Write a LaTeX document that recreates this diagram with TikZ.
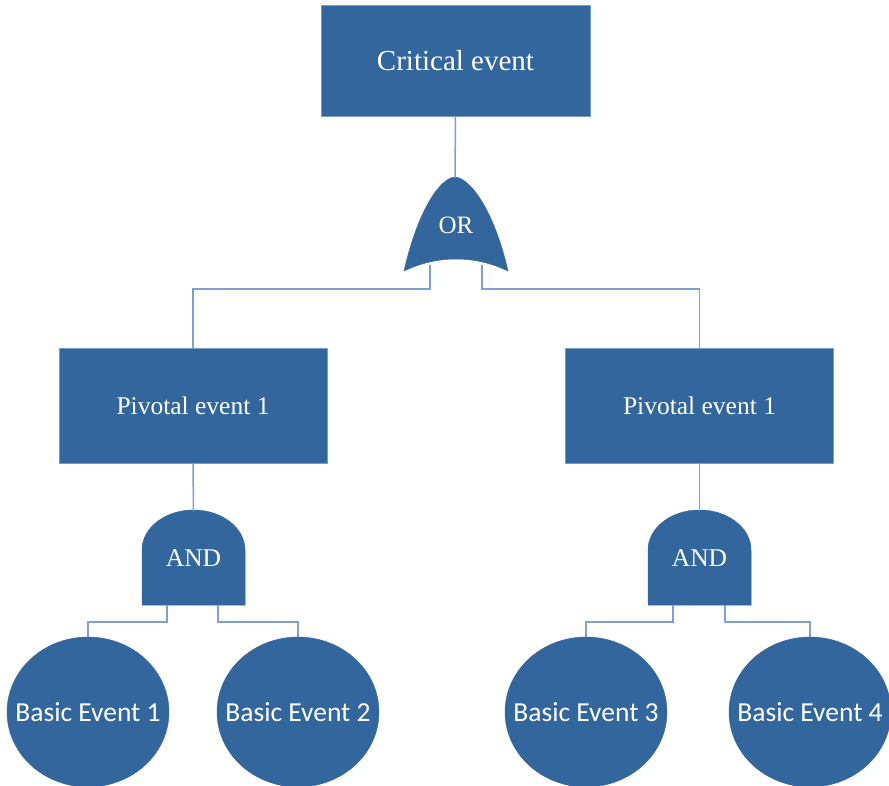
\documentclass[tikz,border=0pt]{standalone}
\usepackage{fontspec}
\setmainfont{Liberation Serif}
\newfontfamily\labelsans{Carlito}
\usetikzlibrary{shapes.geometric}
\definecolor{evfill}{RGB}{50,102,156}
\definecolor{evedge}{RGB}{120,155,200}
\definecolor{wire}{RGB}{125,160,205}
\begin{document}
\begin{tikzpicture}[x=1pt,y=-1pt,
  eventbox/.style={rectangle,fill=evfill,draw=evedge,line width=0.6pt,
    text=white,font=\fontsize{25.5}{30}\selectfont,inner sep=0pt},
  basicev/.style={ellipse,fill=evfill,draw=evfill,
    minimum width=162,minimum height=150,inner sep=0pt,outer sep=0pt},
  basictext/.style={text=white,inner sep=0pt,font=\labelsans\fontsize{27.5}{32}\selectfont},
  gatebody/.style={fill=evfill,draw=evfill,line width=0.5pt},
  gatelabel/.style={text=white,inner sep=0pt,font=\fontsize{25.5}{30}\selectfont},
  wirelink/.style={draw=wire,line width=1.5pt}]
\useasboundingbox (0,0) rectangle (889,786);

% events
\node[eventbox,minimum width=269,minimum height=111,font=\fontsize{29}{34}\selectfont]
  (crit) at (455.5,60.5) {Critical event};
\node[eventbox,minimum width=268,minimum height=115] (piv1) at (193,405.5) {Pivotal event 1};
\node[eventbox,minimum width=268,minimum height=115] (piv2) at (699.5,405.5) {Pivotal event 1};

\node[basicev] (be1) at (88,712) {};
\node[basictext] (be1t) at (be1.center) {Basic Event 1};
\node[basicev] (be2) at (298,712) {};
\node[basictext] (be2t) at (be2.center) {Basic Event 2};
\node[basicev] (be3) at (586,712) {};
\node[basictext] (be3t) at (be3.center) {Basic Event 3};
\node[basicev] (be4) at (810,712) {};
\node[basictext] (be4t) at (be4.center) {Basic Event 4};

% OR gate
\path[gatebody] (404,271) .. controls (418,210) and (440,178) .. (455,177)
  .. controls (470,178) and (494,210) .. (508,271)
  .. controls (475,255) and (437,255) .. (404,271) -- cycle;
\node[gatelabel,font=\fontsize{25}{30}\selectfont] (orgate) at (456,225) {OR};
\coordinate (orIn) at (455,178);
\coordinate (orL) at (430,265);
\coordinate (orR) at (482,265);

% AND gates
\path[gatebody] (142,605) -- (142,550) arc[start angle=180,end angle=360,x radius=51.5,y radius=40] -- (245,605) -- cycle;
\node[gatelabel] (and1) at (193.5,558) {AND};
\coordinate (and1In) at (193.5,511);
\coordinate (and1L) at (167,605);
\coordinate (and1R) at (218,605);

\path[gatebody] (648,605) -- (648,550) arc[start angle=180,end angle=360,x radius=51.5,y radius=40] -- (751,605) -- cycle;
\node[gatelabel] (and2) at (699.5,558) {AND};
\coordinate (and2In) at (699.5,511);
\coordinate (and2L) at (673,605);
\coordinate (and2R) at (725,605);

% junction corners
\coordinate (jL) at (193,289);
\coordinate (jR) at (699.5,289);
\coordinate (j1) at (88,622);
\coordinate (j2) at (298,622);
\coordinate (j3) at (586,622);
\coordinate (j4) at (810,622);

% connectors
\draw[wirelink] (crit.south) -- (orIn);
\draw[wirelink] (orL) |- (jL) -- (piv1.north);
\draw[wirelink] (orR) |- (jR) -- (piv2.north);
\draw[wirelink] (piv1.south) -- (and1In);
\draw[wirelink] (piv2.south) -- (and2In);
\draw[wirelink] (and1L) |- (j1) -- (be1.north);
\draw[wirelink] (and1R) |- (j2) -- (be2.north);
\draw[wirelink] (and2L) |- (j3) -- (be3.north);
\draw[wirelink] (and2R) |- (j4) -- (be4.north);
\end{tikzpicture}
\end{document}
